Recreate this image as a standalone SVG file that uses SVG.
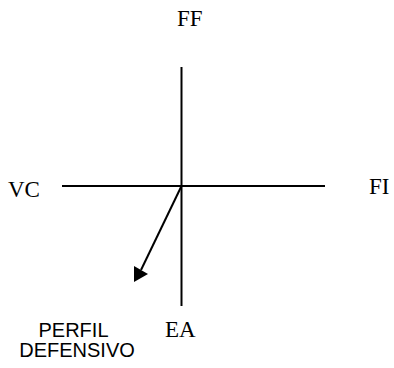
<svg xmlns="http://www.w3.org/2000/svg" width="394" height="368" viewBox="0 0 394 368">
<style>
.serif{font-family:"Liberation Serif","Times New Roman",serif;font-size:23px;fill:#000}
.sans{font-family:"Liberation Sans",Arial,sans-serif;font-size:20px;fill:#000}
.ax{stroke:#000;stroke-width:2;fill:none}
</style>
<rect width="394" height="368" fill="#fff"/>
<g id="connectors">
<line class="ax" x1="181.5" y1="67" x2="181.5" y2="306"/>
<line class="ax" x1="62" y1="186" x2="325" y2="186"/>
<line class="ax" x1="181.5" y1="186" x2="141" y2="270"/>
<polygon points="134,282 134,266 148,274" fill="#000"/>
</g>
<g id="FF"><text class="serif" x="177" y="26">FF</text></g>
<g id="VC"><text class="serif" x="8" y="197">VC</text></g>
<g id="FI"><text class="serif" x="369" y="194">FI</text></g>
<g id="EA"><text class="serif" x="165" y="337">EA</text></g>
<g id="perfil"><text class="sans" text-anchor="middle"><tspan x="73.5" y="337">PERFIL</tspan><tspan x="77" y="357">DEFENSIVO</tspan></text></g>
</svg>
